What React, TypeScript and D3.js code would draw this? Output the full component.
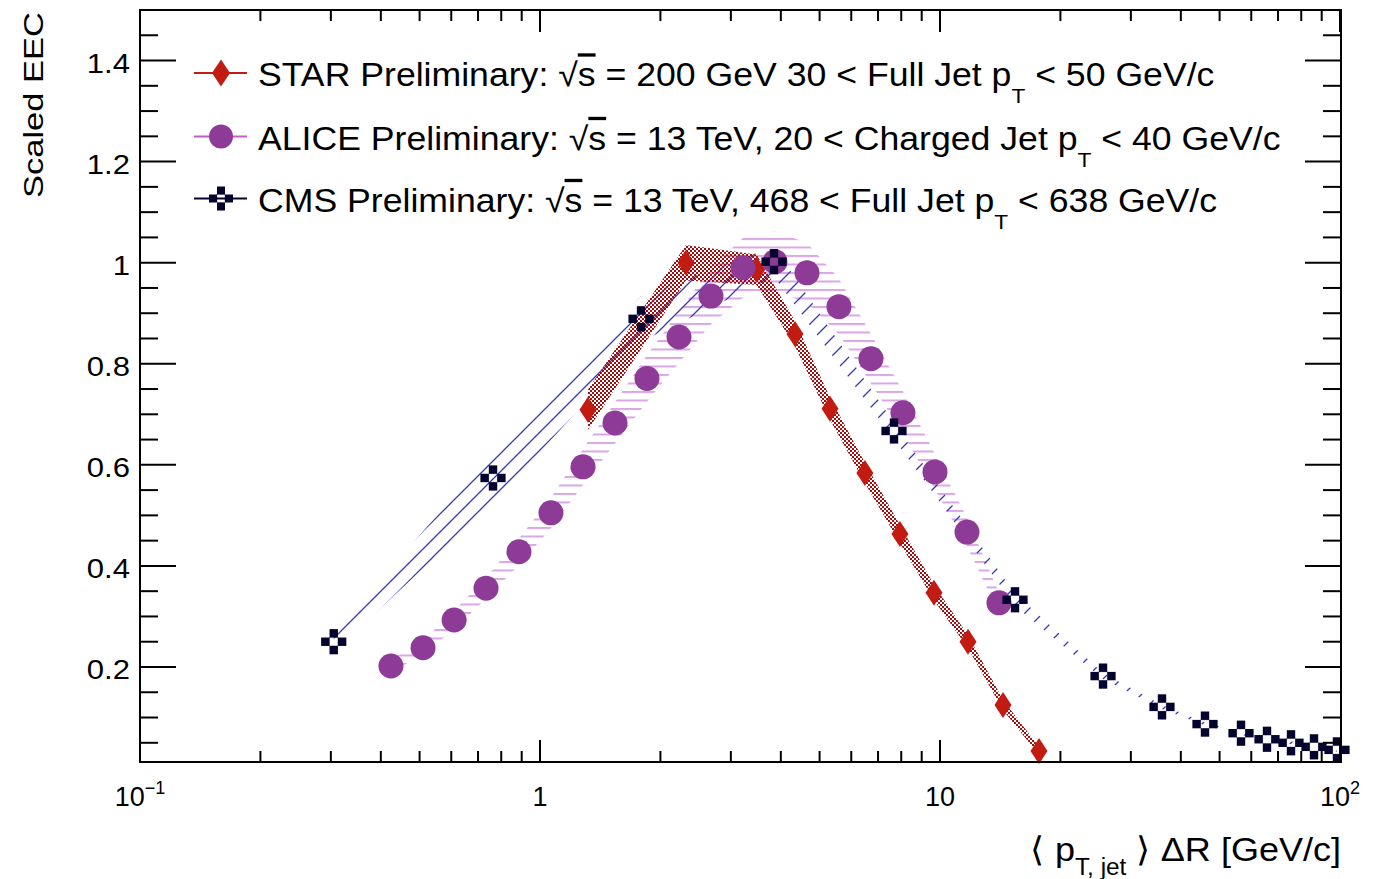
import React from "react";
import * as d3 from "d3";

// ---------------- data ----------------
const STAR_X = [1.318, 2.317, 3.48, 4.34, 5.31, 6.49, 7.94, 9.66, 11.75, 14.37, 17.68];
const STAR_Y = [0.709, 1.0, 0.986, 0.859, 0.711, 0.584, 0.463, 0.347, 0.25, 0.125, 0.034];
const STAR_ERR = [0.04, 0.035, 0.03, 0.025, 0.022, 0.02, 0.018, 0.015, 0.013, 0.01, 0.008];

const ALICE_X = [0.424, 0.51, 0.61, 0.733, 0.886, 1.065, 1.281, 1.54, 1.851, 2.226, 2.676, 3.217, 3.868, 4.65, 5.59, 6.72, 8.079, 9.716, 11.68, 14.04];
const ALICE_Y = [0.202, 0.238, 0.293, 0.356, 0.428, 0.505, 0.596, 0.683, 0.771, 0.853, 0.934, 0.99, 1.002, 0.98, 0.913, 0.81, 0.703, 0.586, 0.467, 0.327];
const ALICE_ERR = [0.012, 0.014, 0.018, 0.021, 0.026, 0.03, 0.036, 0.041, 0.046, 0.051, 0.056, 0.059, 0.06, 0.059, 0.055, 0.049, 0.042, 0.035, 0.028, 0.02];

const CMS_X = [0.305, 0.763, 1.789, 3.846, 7.674, 15.4, 25.56, 35.89, 45.97, 56.56, 65.69, 75.42, 86.1, 98.28];
const CMS_Y = [0.25, 0.574, 0.889, 1.002, 0.667, 0.333, 0.182, 0.121, 0.087, 0.069, 0.057, 0.05, 0.042, 0.036];
const CMS_ERR = [0.02, 0.05, 0.045, 0.03, 0.016, 0.012, 0.006, 0.004, 0.003, 0.003, 0.003, 0.003, 0.003, 0.003];

const Y_TICKS = [0.2, 0.4, 0.6, 0.8, 1, 1.2, 1.4];
const Y_TICK_LABELS = ["0.2", "0.4", "0.6", "0.8", "1", "1.2", "1.4"];
const X_DECADES = [0.1, 1, 10, 100];

const LEGEND = [
  { pre: "STAR Preliminary: ", mid: " = 200 GeV 30 < Full Jet p", post: " < 50 GeV/c", kind: "star" },
  { pre: "ALICE Preliminary: ", mid: " = 13 TeV, 20 < Charged Jet p", post: " < 40 GeV/c", kind: "alice" },
  { pre: "CMS Preliminary: ", mid: " = 13 TeV, 468 < Full Jet p", post: " < 638 GeV/c", kind: "cms" },
];

// ---------------- layout ----------------
const W = 1383;
const H = 879;
const L = 140;
const R = 1341;
const T = 10;
const B = 762;
const FONT = "'Liberation Sans', Arial, Helvetica, sans-serif";

const RED = "#c11b12";
const RED_DOT = "#a00e0e";
const PURPLE = "#8d3b97";
const PURPLE_HATCH = "#d9a6e6";
const NAVY = "#03032e";
const BLUE = "#3636c4";

const x = d3.scaleLog().domain([0.1, 100]).range([L, R - 1]);
const y = d3.scaleLinear().domain([0.012, 1.5]).range([B, T]);

type Pt = { x: number; y: number; e: number };
const zip = (xs: number[], ys: number[], es: number[]): Pt[] => xs.map((v, i) => ({ x: v, y: ys[i], e: es[i] }));

const starPts = zip(STAR_X, STAR_Y, STAR_ERR);
const alicePts = zip(ALICE_X, ALICE_Y, ALICE_ERR);
const cmsPts = zip(CMS_X, CMS_Y, CMS_ERR);

const band = d3
  .area<Pt>()
  .x((d) => x(d.x))
  .y0((d) => y(d.y - d.e))
  .y1((d) => y(d.y + d.e));

const Diamond = ({ cx, cy, w = 8.5, h = 13 }: { cx: number; cy: number; w?: number; h?: number }) => (
  <path d={`M${cx},${cy - h}L${cx + w},${cy}L${cx},${cy + h}L${cx - w},${cy}Z`} fill={RED} />
);

const CmsMarker = ({ cx, cy, c = 8.4 }: { cx: number; cy: number; c?: number }) => {
  const offs = [
    [0, -c],
    [c, 0],
    [0, c],
    [-c, 0],
  ];
  return (
    <g>
      {offs.map(([dx, dy], i) => (
        <rect key={i} x={cx + dx - c / 2} y={cy + dy - c / 2} width={c} height={c} fill={NAVY} />
      ))}
      <rect x={cx - c / 2} y={cy - c / 2} width={c} height={c} fill="none" stroke={NAVY} strokeWidth={0.6} strokeOpacity={0.5} />
    </g>
  );
};

export default function App() {
  const yMinor: number[] = [];
  for (let v = 0.05; v < 1.5; v += 0.05) {
    const r = Math.round(v * 100) / 100;
    if (Math.abs(r * 5 - Math.round(r * 5)) > 1e-6) yMinor.push(r);
  }
  const xMinor: number[] = [];
  [0.1, 1, 10].forEach((dec) => {
    for (let k = 2; k <= 9; k++) xMinor.push(dec * k);
  });

  const legendRows = [73, 136.5, 198.5];

  return (
    <svg
      width={W}
      height={H}
      style={{ position: "absolute", left: 0, top: 0, background: "#fff" }}
      fontFamily={FONT}
    >
      <defs>
        <clipPath id="frameClip">
          <rect x={L} y={T} width={R - L} height={B - T} />
        </clipPath>
        <pattern id="starDots" patternUnits="userSpaceOnUse" width={4} height={4}>
          <rect x={0} y={0} width={2} height={2} fill={RED_DOT} />
          <rect x={2} y={2} width={2} height={2} fill={RED_DOT} />
        </pattern>
        <pattern id="aliceHatch" patternUnits="userSpaceOnUse" width={8} height={8.5}>
          <rect x={0} y={0} width={8} height={2} fill={PURPLE_HATCH} />
        </pattern>
        <pattern id="cmsHatch" patternUnits="userSpaceOnUse" width={18} height={18}>
          <path d="M0,18L18,0M-5,5L5,-5M13,23L23,13" stroke={BLUE} strokeWidth={1.3} />
        </pattern>
      </defs>

      {/* bands */}
      <g clipPath="url(#frameClip)">
        <path d={band(alicePts) ?? ""} fill="url(#aliceHatch)" />
        <path d={band(cmsPts) ?? ""} fill="url(#cmsHatch)" />
        <path d={band(starPts) ?? ""} fill="url(#starDots)" />
      </g>

      {/* markers */}
      {starPts.map((d, i) => (
        <Diamond key={`s${i}`} cx={x(d.x)} cy={y(d.y)} />
      ))}
      {alicePts.map((d, i) => (
        <circle key={`a${i}`} cx={x(d.x)} cy={y(d.y)} r={12.5} fill={PURPLE} />
      ))}
      {cmsPts.map((d, i) => (
        <CmsMarker key={`c${i}`} cx={x(d.x)} cy={y(d.y)} />
      ))}

      {/* frame */}
      <rect x={L} y={T} width={R - L} height={B - T} fill="none" stroke="#000" strokeWidth={2} />

      {/* y ticks */}
      {Y_TICKS.map((v) => (
        <g key={`yt${v}`}>
          <line x1={L} x2={L + 36} y1={y(v)} y2={y(v)} stroke="#000" strokeWidth={2} />
          <line x1={R} x2={R - 36} y1={y(v)} y2={y(v)} stroke="#000" strokeWidth={2} />
        </g>
      ))}
      {yMinor.map((v) => (
        <g key={`ym${v}`}>
          <line x1={L} x2={L + 18} y1={y(v)} y2={y(v)} stroke="#000" strokeWidth={2} />
          <line x1={R} x2={R - 18} y1={y(v)} y2={y(v)} stroke="#000" strokeWidth={2} />
        </g>
      ))}
      {Y_TICK_LABELS.map((lab, i) => (
        <g key={`yl${lab}`} transform={`translate(130,${y(Y_TICKS[i]) + 12}) scale(1.15,1)`}>
          <text x={0} y={0} textAnchor="end" fontSize={27}>
            {lab}
          </text>
        </g>
      ))}

      {/* x ticks */}
      {X_DECADES.map((v) => (
        <g key={`xt${v}`}>
          <line x1={x(v)} x2={x(v)} y1={B} y2={B - 22} stroke="#000" strokeWidth={2} />
          <line x1={x(v)} x2={x(v)} y1={T} y2={T + 22} stroke="#000" strokeWidth={2} />
        </g>
      ))}
      {xMinor.map((v) => (
        <g key={`xm${v}`}>
          <line x1={x(v)} x2={x(v)} y1={B} y2={B - 11} stroke="#000" strokeWidth={2} />
          <line x1={x(v)} x2={x(v)} y1={T} y2={T + 11} stroke="#000" strokeWidth={2} />
        </g>
      ))}
      {X_DECADES.map((v) => {
        const exp = Math.round(Math.log10(v));
        return (
          <text key={`xl${v}`} x={x(v)} y={806} textAnchor="middle" fontSize={27}>
            {exp === 0 ? "1" : exp === 1 ? "10" : (
              <>
                <tspan>10</tspan>
                <tspan fontSize={18} dy={-12}>
                  {exp < 0 ? `\u2212${-exp}` : `${exp}`}
                </tspan>
              </>
            )}
          </text>
        );
      })}

      {/* axis titles */}
      <text
        transform="translate(43,12) rotate(-90)"
        textAnchor="end"
        fontSize={28}
        textLength={186}
        lengthAdjust="spacingAndGlyphs"
      >
        Scaled EEC
      </text>
      <g transform={`translate(${R},861) scale(1.06,1)`}>
        <text x={0} y={0} textAnchor="end" fontSize={34}>
          <tspan>{"\u27E8 p"}</tspan>
          <tspan fontSize={23} dy={14}>
            {"T, jet"}
          </tspan>
          <tspan dy={-14}>{" \u27E9 \u0394R [GeV/c]"}</tspan>
        </text>
      </g>

      {/* legend */}
      {LEGEND.map((row, i) => {
        const cy = legendRows[i];
        return (
          <g key={`lg${i}`}>
            <line
              x1={194}
              x2={247}
              y1={cy}
              y2={cy}
              stroke={row.kind === "star" ? RED : row.kind === "alice" ? "#c25ccb" : NAVY}
              strokeWidth={2}
            />
            {row.kind === "star" && <Diamond cx={221} cy={cy} w={9} h={13.5} />}
            {row.kind === "alice" && <circle cx={221} cy={cy} r={12} fill={PURPLE} />}
            {row.kind === "cms" && <CmsMarker cx={221} cy={cy} c={8} />}
            <g transform={`translate(258,${cy + 13}) scale(1.08,1)`}>
              <text x={0} y={0} fontSize={33}>
                <tspan>{row.pre}</tspan>
                <tspan>{"\u221A"}</tspan>
                <tspan style={{ textDecoration: "overline" }}>s</tspan>
                <tspan>{row.mid}</tspan>
                <tspan fontSize={21} dy={17}>
                  T
                </tspan>
                <tspan dy={-17}>{row.post}</tspan>
              </text>
            </g>
          </g>
        );
      })}
    </svg>
  );
}
